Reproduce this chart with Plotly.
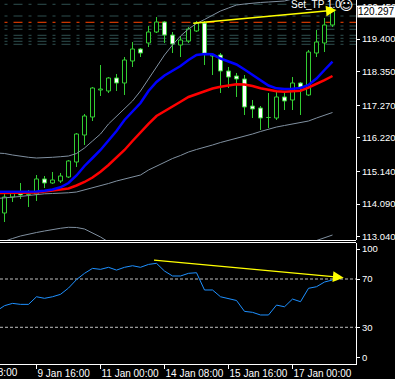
import plotly.graph_objects as go

# ---------------- data (H4 bars, index 0..41) ----------------
BAR_IDX = list(range(0, 42))
LINE_IDX = list(range(-1, 42))

OPEN = [113.803, 114.318, 114.446, 114.398, 114.414, 114.897, 114.768, 114.832, 114.961, 115.443,
        116.312, 116.891, 117.760, 117.728, 118.146, 117.985, 118.693, 119.079, 119.272, 119.626,
        119.947, 119.529, 119.207, 119.336, 119.658, 119.915, 118.853, 118.886, 118.371, 118.210,
        118.114, 117.245, 117.181, 116.875, 116.859, 117.535, 117.438, 117.985, 117.599, 118.950,
        119.272, 119.851]
HIGH = [114.414, 114.511, 114.768, 114.543, 115.025, 114.993, 115.122, 115.090, 115.508, 116.376,
        116.988, 117.856, 118.564, 118.178, 118.274, 118.821, 119.304, 119.111, 119.819, 120.108,
        119.979, 119.626, 119.497, 119.786, 119.979, 119.979, 118.886, 118.950, 118.500, 118.307,
        118.242, 117.438, 117.245, 117.663, 117.695, 117.663, 118.178, 118.017, 119.047, 119.690,
        120.076, 120.398]
LOW = [113.513, 114.157, 114.253, 113.996, 114.189, 114.607, 114.736, 114.768, 114.929, 115.283,
       115.990, 116.762, 117.567, 117.663, 117.728, 117.599, 118.500, 118.821, 119.143, 119.593,
       119.272, 118.950, 118.821, 119.272, 119.626, 118.564, 118.242, 117.663, 117.824, 117.535,
       116.955, 116.859, 116.473, 116.537, 116.795, 117.116, 117.116, 116.955, 117.567, 118.821,
       118.982, 119.786]
CLOSE = [114.318, 114.446, 114.382, 114.414, 114.897, 114.768, 114.865, 114.993, 115.476, 116.344,
         116.923, 117.824, 117.792, 118.146, 117.985, 118.725, 119.079, 118.950, 119.626, 119.947,
         119.529, 119.240, 119.368, 119.722, 119.915, 118.918, 118.886, 118.371, 118.178, 118.114,
         117.213, 117.149, 116.859, 116.891, 117.535, 117.406, 117.985, 117.856, 118.982, 119.304,
         119.851, 120.297]

MA_FAST = [114.488, 114.488, 114.478, 114.478, 114.478, 114.494, 114.520, 114.559, 114.630, 114.768,
           115.009, 115.315, 115.572, 115.830, 116.135, 116.441, 116.795, 117.084, 117.341, 117.728,
           118.017, 118.226, 118.387, 118.532, 118.725, 118.886, 118.918, 118.908, 118.773, 118.677,
           118.580, 118.419, 118.242, 118.065, 117.904, 117.814, 117.792, 117.798, 117.824, 117.921,
           118.130, 118.403, 118.670]
MA_SLOW = [114.446, 114.446, 114.446, 114.453, 114.459, 114.462, 114.494, 114.520, 114.549, 114.591,
           114.687, 114.800, 114.945, 115.131, 115.347, 115.588, 115.830, 116.119, 116.409, 116.666,
           116.923, 117.084, 117.245, 117.383, 117.535, 117.631, 117.728, 117.808, 117.866, 117.904,
           117.946, 117.937, 117.888, 117.814, 117.760, 117.721, 117.705, 117.711, 117.737, 117.840,
           117.953, 118.081, 118.210]
BB_UPPER = [115.733, 115.717, 115.669, 115.620, 115.595, 115.572, 115.572, 115.595, 115.614, 115.636,
            115.717, 115.894, 116.119, 116.344, 116.666, 116.923, 117.181, 117.406, 117.728, 118.114,
            118.532, 118.886, 119.207, 119.497, 119.722, 119.899, 120.028, 120.172, 120.301, 120.398,
            120.494, 120.526, 120.558, 120.575, 120.591, 120.607, 120.623, 120.687, 120.752, 120.752,
            120.848, 120.912, 120.977]
BB_MID = [114.269, 114.285, 114.308, 114.334, 114.366, 114.398, 114.420, 114.430, 114.437, 114.453,
          114.478, 114.543, 114.607, 114.671, 114.752, 114.832, 114.897, 114.961, 115.025, 115.186,
          115.315, 115.443, 115.556, 115.653, 115.765, 115.846, 115.910, 115.990, 116.071, 116.135,
          116.216, 116.280, 116.344, 116.425, 116.505, 116.569, 116.618, 116.666, 116.714, 116.762,
          116.859, 116.939, 117.036]
BB_LOWER = [112.806, 112.902, 112.982, 113.063, 113.127, 113.175, 113.224, 113.272, 113.311, 113.343,
            113.337, 113.288, 113.159, 113.031, 112.870, 112.741, 112.613, 112.516, 112.323, 112.259,
            112.098, 112.001, 111.905, 111.808, 111.808, 111.792, 111.792, 111.808, 111.840, 111.873,
            111.937, 112.034, 112.130, 112.275, 112.420, 112.532, 112.613, 112.677, 112.741, 112.806,
            112.918, 112.999, 113.095]
RSI = [43.5, 47.9, 49.8, 49.0, 49.0, 55.3, 54.0, 55.3, 57.3, 62.5, 69.5, 74.7, 78.8, 78.0, 79.7,
       77.4, 79.7, 81.0, 79.7, 82.1, 83.0, 76.6, 72.5, 72.5, 74.7, 75.2, 60.9, 60.9, 55.3, 54.0,
       52.2, 43.2, 42.4, 40.2, 40.2, 48.4, 47.0, 53.4, 51.2, 62.3, 63.6, 67.5, 69.2]

LEVELS_GRAY = [120.517, 120.140, 119.819, 119.712, 119.519, 119.423, 119.326, 119.230]
LEVELS_RED = [119.938]
PRICE_TICKS = [113.04, 114.09, 115.14, 116.22, 117.27, 118.35, 119.40, 120.45]
TIME_TICK_IDX = [4, 12, 20, 28, 36]
TIME_TICK_LABELS = ["9 Jan 16:00", "11 Jan 00:00", "14 Jan 08:00", "15 Jan 16:00", "17 Jan 00:00"]
FIRST_TIME_LABEL = "8 Jan 08:00"
RSI_TICK_POS = [94.8, 70, 30, 4.8]
RSI_TICK_LABELS = ["100", "70", "30", "0"]
RSI_LEVELS = [70, 30]
LAST_PRICE = 120.297
TREND_MAIN = [(23.4, 119.905), (41.5, 120.333)]
TREND_RSI = [(18.5, 85.7), (42.4, 71.1)]
SIGNAL_TEXT = "Set_TP 1.0"

# ---------------- geometry ----------------
W, H = 395, 379
XD = 356 / W
X_RANGE = [-0.5625, 43.9375]
MAIN_DOM = [1 - 240 / H, 1]
RSI_DOM = [1 - 363.5 / H, 1 - 242.8 / H]
GREEN = "#32CD32"
FONT = "Liberation Sans, Arial, DejaVu Sans, sans-serif"

fig = go.Figure()

# wicks
wx, wy = [], []
for i, h, l in zip(BAR_IDX, HIGH, LOW):
    wx += [i, i, None]
    wy += [l, h, None]
fig.add_trace(go.Scatter(x=wx, y=wy, mode="lines", line=dict(color=GREEN, width=1),
                         hoverinfo="skip", xaxis="x", yaxis="y"))


def bodies(bull):
    xs, ys = [], []
    for i, o, c in zip(BAR_IDX, OPEN, CLOSE):
        if (c >= o) == bull:
            xs += [i - 0.25, i + 0.25, i + 0.25, i - 0.25, i - 0.25, None]
            ys += [o, o, c, c, o, None]
    return xs, ys


for bull, fillc in [(True, "black"), (False, "white")]:
    bx, by = bodies(bull)
    fig.add_trace(go.Scatter(x=bx, y=by, mode="lines", fill="toself", fillcolor=fillc,
                             line=dict(color=GREEN, width=1), hoverinfo="skip",
                             xaxis="x", yaxis="y"))

for series, col, wd in [(BB_UPPER, "#8090A0", 1), (BB_MID, "#8090A0", 1), (BB_LOWER, "#8090A0", 1),
                        (MA_SLOW, "#FF0000", 2.5), (MA_FAST, "#0000FF", 2.5)]:
    fig.add_trace(go.Scatter(x=LINE_IDX, y=series, mode="lines", line=dict(color=col, width=wd),
                             hoverinfo="skip", xaxis="x", yaxis="y"))

fig.add_trace(go.Scatter(x=LINE_IDX, y=RSI, mode="lines", line=dict(color="#1E90FF", width=1),
                         hoverinfo="skip", xaxis="x", yaxis="y2"))

shapes = []
for lv in LEVELS_GRAY:
    shapes.append(dict(type="line", xref="x", yref="y", x0=0, x1=X_RANGE[1], y0=lv, y1=lv,
                       line=dict(color="#2F4F4F", width=1, dash="3px,6px,9px,6px"), layer="below"))
for lv in LEVELS_RED:
    shapes.append(dict(type="line", xref="x", yref="y", x0=0, x1=X_RANGE[1], y0=lv, y1=lv,
                       line=dict(color="#FF4500", width=1, dash="3px,6px,9px,6px"), layer="below"))
for lv in RSI_LEVELS:
    shapes.append(dict(type="line", xref="x", yref="y2", x0=X_RANGE[0], x1=X_RANGE[1], y0=lv, y1=lv,
                       line=dict(color="#C0C0C0", width=1, dash="3px,2px"), layer="below"))
# panel borders
shapes.append(dict(type="line", xref="paper", yref="paper", x0=0, x1=XD,
                   y0=1 - 240.5 / H, y1=1 - 240.5 / H, line=dict(color="white", width=1)))
shapes.append(dict(type="line", xref="paper", yref="paper", x0=0, x1=XD,
                   y0=1 - 242.5 / H, y1=1 - 242.5 / H, line=dict(color="white", width=1)))

annotations = [
    dict(xref="paper", yref="y", x=357 / W, y=LAST_PRICE, text=f"{LAST_PRICE:.3f}", showarrow=False,
         xanchor="left", yanchor="middle", bgcolor="white", borderpad=0,
         font=dict(color="black", size=10, family=FONT)),
    dict(xref="paper", yref="paper", x=19.5 / W, y=1 - 372.5 / H, text=FIRST_TIME_LABEL, showarrow=False,
         xanchor="right", yanchor="middle", font=dict(color="white", size=10, family=FONT)),
    dict(xref="paper", yref="paper", x=289 / W, y=1 - 4.5 / H, text=SIGNAL_TEXT, showarrow=False,
         xanchor="left", yanchor="middle", font=dict(color="white", size=10, family=FONT)),
    dict(xref="paper", yref="paper", x=346 / W, y=1 - 5 / H, text="\u263A", showarrow=False,
         xanchor="center", yanchor="middle", font=dict(color="white", size=14, family="DejaVu Sans")),
    dict(xref="x", yref="y", axref="x", ayref="y", x=TREND_MAIN[1][0], y=TREND_MAIN[1][1],
         ax=TREND_MAIN[0][0], ay=TREND_MAIN[0][1], text="", showarrow=True, arrowhead=2,
         arrowsize=1.4, arrowwidth=1.5, arrowcolor="#FFFF00", standoff=0),
    dict(xref="x", yref="y2", axref="x", ayref="y2", x=TREND_RSI[1][0], y=TREND_RSI[1][1],
         ax=TREND_RSI[0][0], ay=TREND_RSI[0][1], text="", showarrow=True, arrowhead=2,
         arrowsize=1.8, arrowwidth=1.2, arrowcolor="#FFFF00", standoff=0),
]

axis_common = dict(showgrid=False, zeroline=False, showline=True, linecolor="white", linewidth=1,
                   ticks="outside", tickcolor="white", automargin=False, tickangle=0, fixedrange=True)

fig.update_layout(
    width=W, height=H, margin=dict(l=0, r=0, t=0, b=0, autoexpand=False),
    paper_bgcolor="black", plot_bgcolor="black", showlegend=False,
    xaxis=dict(domain=[0, XD], range=X_RANGE, anchor="y2", tickvals=TIME_TICK_IDX, ticklen=4,
               ticktext=TIME_TICK_LABELS, ticklabelposition="outside right",
               tickfont=dict(color="white", size=10, family=FONT), **axis_common),
    yaxis=dict(domain=MAIN_DOM, range=[112.934, 120.655], anchor="x", side="right", ticklen=3,
               tickvals=PRICE_TICKS, ticktext=[f"{v:.3f}" for v in PRICE_TICKS],
               tickfont=dict(color="white", size=9.5, family=FONT), **axis_common),
    yaxis2=dict(domain=RSI_DOM, range=[0, 100], anchor="x", side="right", ticklen=3,
                tickvals=RSI_TICK_POS, ticktext=RSI_TICK_LABELS,
                tickfont=dict(color="white", size=9.5, family=FONT), **axis_common),
    shapes=shapes, annotations=annotations,
)

fig.write_html("out.html")
